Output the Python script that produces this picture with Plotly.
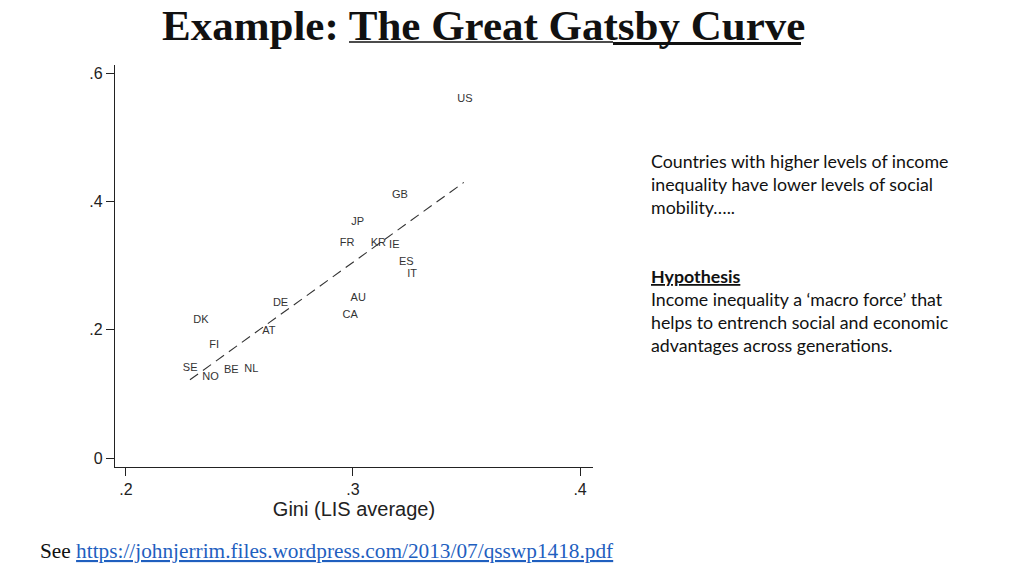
import plotly.graph_objects as go

# ---- data ----
countries = ["US", "GB", "JP", "FR", "KR", "IE", "ES", "IT", "AU", "CA",
             "DE", "DK", "AT", "FI", "SE", "NO", "BE", "NL"]
gini = [0.3493, 0.3207, 0.3021, 0.2974, 0.3112, 0.3182, 0.3235, 0.3260, 0.3023, 0.2988,
        0.2681, 0.2330, 0.2630, 0.2389, 0.2283, 0.2373, 0.2464, 0.2552]
mobility = [0.559, 0.410, 0.368, 0.335, 0.335, 0.331, 0.305, 0.286, 0.2495, 0.222,
            0.2417, 0.2145, 0.197, 0.175, 0.140, 0.1255, 0.1375, 0.1385]
fit_x = [0.2282, 0.3488]
fit_y = [0.1219, 0.4295]
x_ticks = [0.2, 0.3, 0.4]
x_ticklabels = [".2", ".3", ".4"]
y_ticks = [0, 0.2, 0.4, 0.6]
y_ticklabels = ["0", ".2", ".4", ".6"]

# ---- layout geometry (pixels) ----
W, H = 1024, 576
L, R, T, B = 115, 593, 65, 467


def px(xp):
    return (xp - L) / (R - L)


def py(yp):
    return (B - yp) / (B - T)


fig = go.Figure()
fig.add_trace(go.Scatter(
    x=fit_x, y=fit_y, mode="lines",
    line=dict(color="#333333", width=1.1, dash="10px,6px"),
    hoverinfo="skip", showlegend=False))
fig.add_trace(go.Scatter(
    x=gini, y=mobility, mode="text", text=countries,
    textposition="middle center",
    textfont=dict(family="Liberation Sans, Arial", size=11, color="#333333"),
    showlegend=False))

axis_font = dict(family="Liberation Sans, Arial", size=16, color="#222222")
fig.update_xaxes(
    range=[0.1952, 0.4057], tickvals=x_ticks, ticktext=x_ticklabels,
    showline=True, linecolor="#222222", linewidth=1.2, mirror=False,
    ticks="outside", ticklen=8, tickcolor="#222222", tickwidth=1.2,
    showgrid=False, zeroline=False, tickfont=axis_font,
    title=dict(text="Gini (LIS average)", font=dict(family="Liberation Sans, Arial", size=20, color="#222222"), standoff=0))
fig.update_yaxes(
    range=[-0.014, 0.6125], tickvals=y_ticks, ticktext=y_ticklabels,
    showline=True, linecolor="#222222", linewidth=1.2,
    ticks="outside", ticklen=8, tickcolor="#222222", tickwidth=1.2,
    showgrid=False, zeroline=False, tickfont=axis_font)

annotations = []
# title
annotations.append(dict(
    x=px(483), y=py(25), xref="paper", yref="paper", xanchor="center", yanchor="middle",
    text="<b>Example: The Great Gatsby Curve</b>", showarrow=False,
    font=dict(family="Liberation Serif, Times New Roman", size=43, color="#111111")))

# right-hand text
body_font = dict(family="Lato, Open Sans", size=17.8, color="#111111")
lines = [
    (161, "Countries with higher levels of income"),
    (184, "inequality have lower levels of social"),
    (207, "mobility….."),
    (276, "<b><u>Hypothesis</u></b>"),
    (299, "Income inequality a ‘macro force’ that"),
    (322, "helps to entrench social and economic"),
    (345, "advantages across generations."),
]
for yy, txt in lines:
    annotations.append(dict(
        x=px(649), y=py(yy), xref="paper", yref="paper", xanchor="left", yanchor="middle",
        text=txt, showarrow=False, font=body_font, align="left"))

# footnote
annotations.append(dict(
    x=px(38), y=py(551), xref="paper", yref="paper", xanchor="left", yanchor="middle",
    text="See <span style='color:#1F5FBF'><u>https://johnjerrim.files.wordpress.com/2013/07/qsswp1418.pdf</u></span>",
    showarrow=False,
    font=dict(family="Liberation Serif, Times New Roman", size=21.3, color="#111111")))

fig.update_layout(
    width=W, height=H, autosize=False,
    margin=dict(l=L, r=W - R, t=T, b=H - B, pad=0),
    paper_bgcolor="white", plot_bgcolor="white",
    annotations=annotations,
    shapes=[
        dict(type="line", xref="paper", yref="paper",
             x0=px(349), x1=px(613), y0=py(42), y1=py(42),
             line=dict(color="#111111", width=1.6)),
        dict(type="line", xref="paper", yref="paper",
             x0=px(613), x1=px(801), y0=py(43.5), y1=py(43.5),
             line=dict(color="#111111", width=3)),
    ],
)

fig.write_html("out.html", config={"displayModeBar": False},
               post_script="document.body.style.margin='0px';document.body.style.padding='0px';")
